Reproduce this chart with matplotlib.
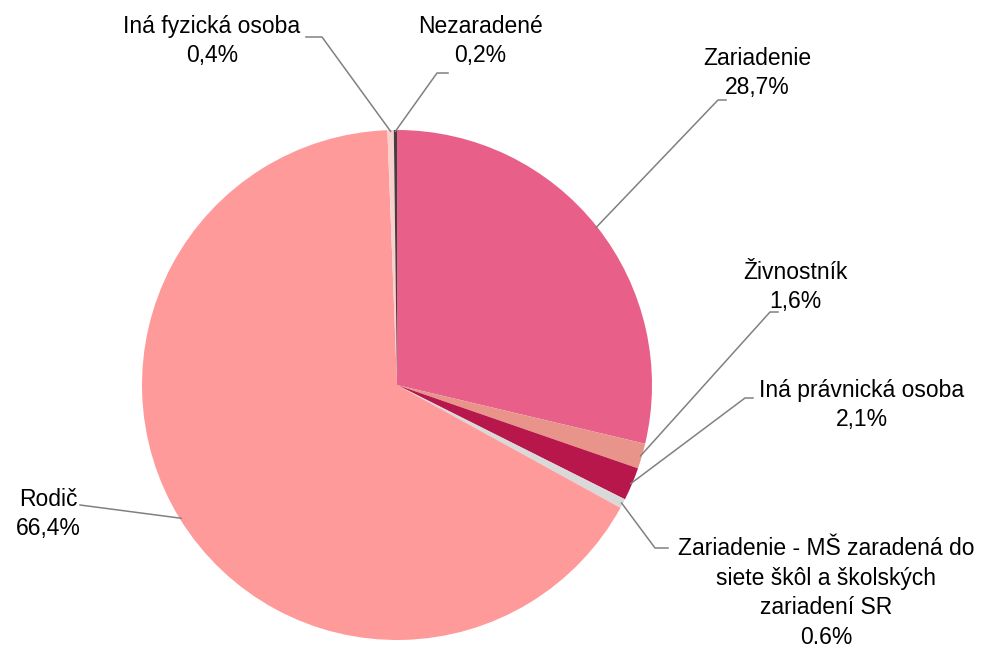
import matplotlib.pyplot as plt
import numpy as np

plt.rcParams['font.family'] = ['Liberation Sans', 'DejaVu Sans']

labels = ['Zariadenie', 'Živnostník', 'Iná právnická osoba',
          'Zariadenie - MŠ zaradená do\nsiete škôl a školských\nzariadení SR',
          'Rodič', 'Iná fyzická osoba', 'Nezaradené']
values = [28.7, 1.6, 2.1, 0.6, 66.4, 0.4, 0.2]
value_texts = ['28,7%', '1,6%', '2,1%', '0.6%', '66,4%', '0,4%', '0,2%']
colors = ['#E8608A', '#E8948A', '#B8174C', '#D9D9D9', '#FF9A9A', '#F8D0CC', '#404040']

W, H = 981, 648
CX, CY, R = 397, 385, 255


def px(x, y):
    # pixel position in the picture -> data coords of the pie axes
    return (x - CX) / R, (CY - y) / R


# text centre, elbow end of leader, horizontal end of leader (pixels)
label_pos = [
    ((757, 73), (718, 100), (726, 100)),
    ((795, 287), (770, 312), (778, 312)),
    ((862, 405), (745, 398), (753, 398)),
    ((826, 593), (655, 548), (668, 548)),
    ((48, 514), (80, 505), (80, 505)),
    ((212, 41), (322, 37), (306, 37)),
    ((480, 41), (437, 73), (448, 73)),
]

fig = plt.figure(figsize=(W / 100, H / 100), dpi=100)
ax = fig.add_axes([(CX - R) / W, (H - CY - R) / H, 2 * R / W, 2 * R / H])
wedges, _ = ax.pie(values, colors=colors, startangle=90, counterclock=False,
                   radius=1, wedgeprops=dict(linewidth=0))
ax.set_xlim(-1, 1)
ax.set_ylim(-1, 1)
ax.axis('off')

for w, lab, vt, (tp, elbow, hend) in zip(wedges, labels, value_texts, label_pos):
    ang = np.deg2rad((w.theta1 + w.theta2) / 2)
    x0, y0 = 0.995 * np.cos(ang), 0.995 * np.sin(ang)
    ex, ey = px(*elbow)
    hx, hy = px(*hend)
    ax.plot([x0, ex, hx], [y0, ey, hy], color='#808080', lw=1.1, clip_on=False)
    tx, ty = px(*tp)
    ax.text(tx, ty, lab + '\n' + vt, ha='center', va='center', fontsize=16.5,
            linespacing=1.36, color='#000000', clip_on=False)

fig.savefig('out.png', dpi=100)
